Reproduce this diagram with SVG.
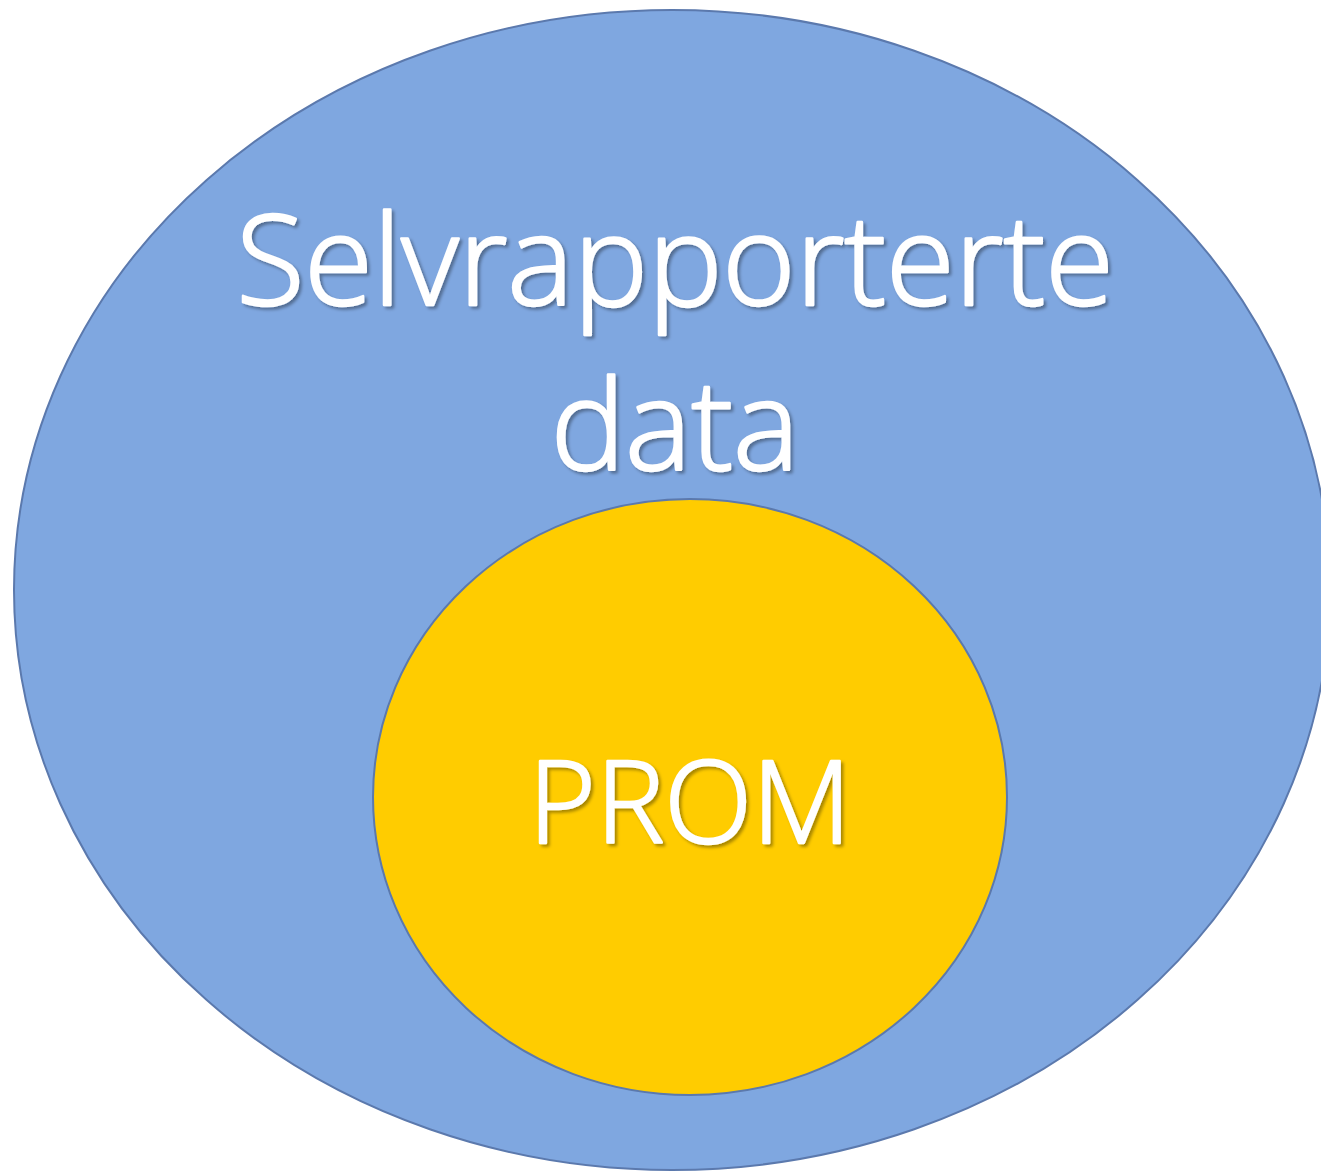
<svg xmlns="http://www.w3.org/2000/svg" width="1321" height="1172" viewBox="0 0 1321 1172">
<defs>
<style>
.lbl{font-family:"Open Sans","Noto Sans",sans-serif;font-weight:300;fill:#ffffff;stroke:#ffffff;stroke-width:2.5;stroke-linejoin:round;text-anchor:middle;filter:url(#sh)}
</style>
<filter id="sh" x="-10%" y="-20%" width="120%" height="140%">
<feDropShadow dx="2.5" dy="2.5" stdDeviation="1.5" flood-color="#000" flood-opacity="0.35"/>
</filter>
</defs>
<rect width="1321" height="1172" fill="#ffffff"/>
<g id="outer">
<ellipse cx="672" cy="590" rx="658" ry="580" fill="#7FA7E0" stroke="#5B79AD" stroke-width="2"/>
<text class="lbl" x="675" y="305" font-size="125">Selvrapporterte</text>
<text class="lbl" x="675" y="470" font-size="125">data</text>
</g>
<g id="inner">
<ellipse cx="690" cy="797" rx="317" ry="298" fill="#FFCC00" stroke="#5B79AD" stroke-width="2"/>
<text class="lbl" x="690" y="843" font-size="115">PROM</text>
</g>
<g id="connectors"></g>
</svg>
